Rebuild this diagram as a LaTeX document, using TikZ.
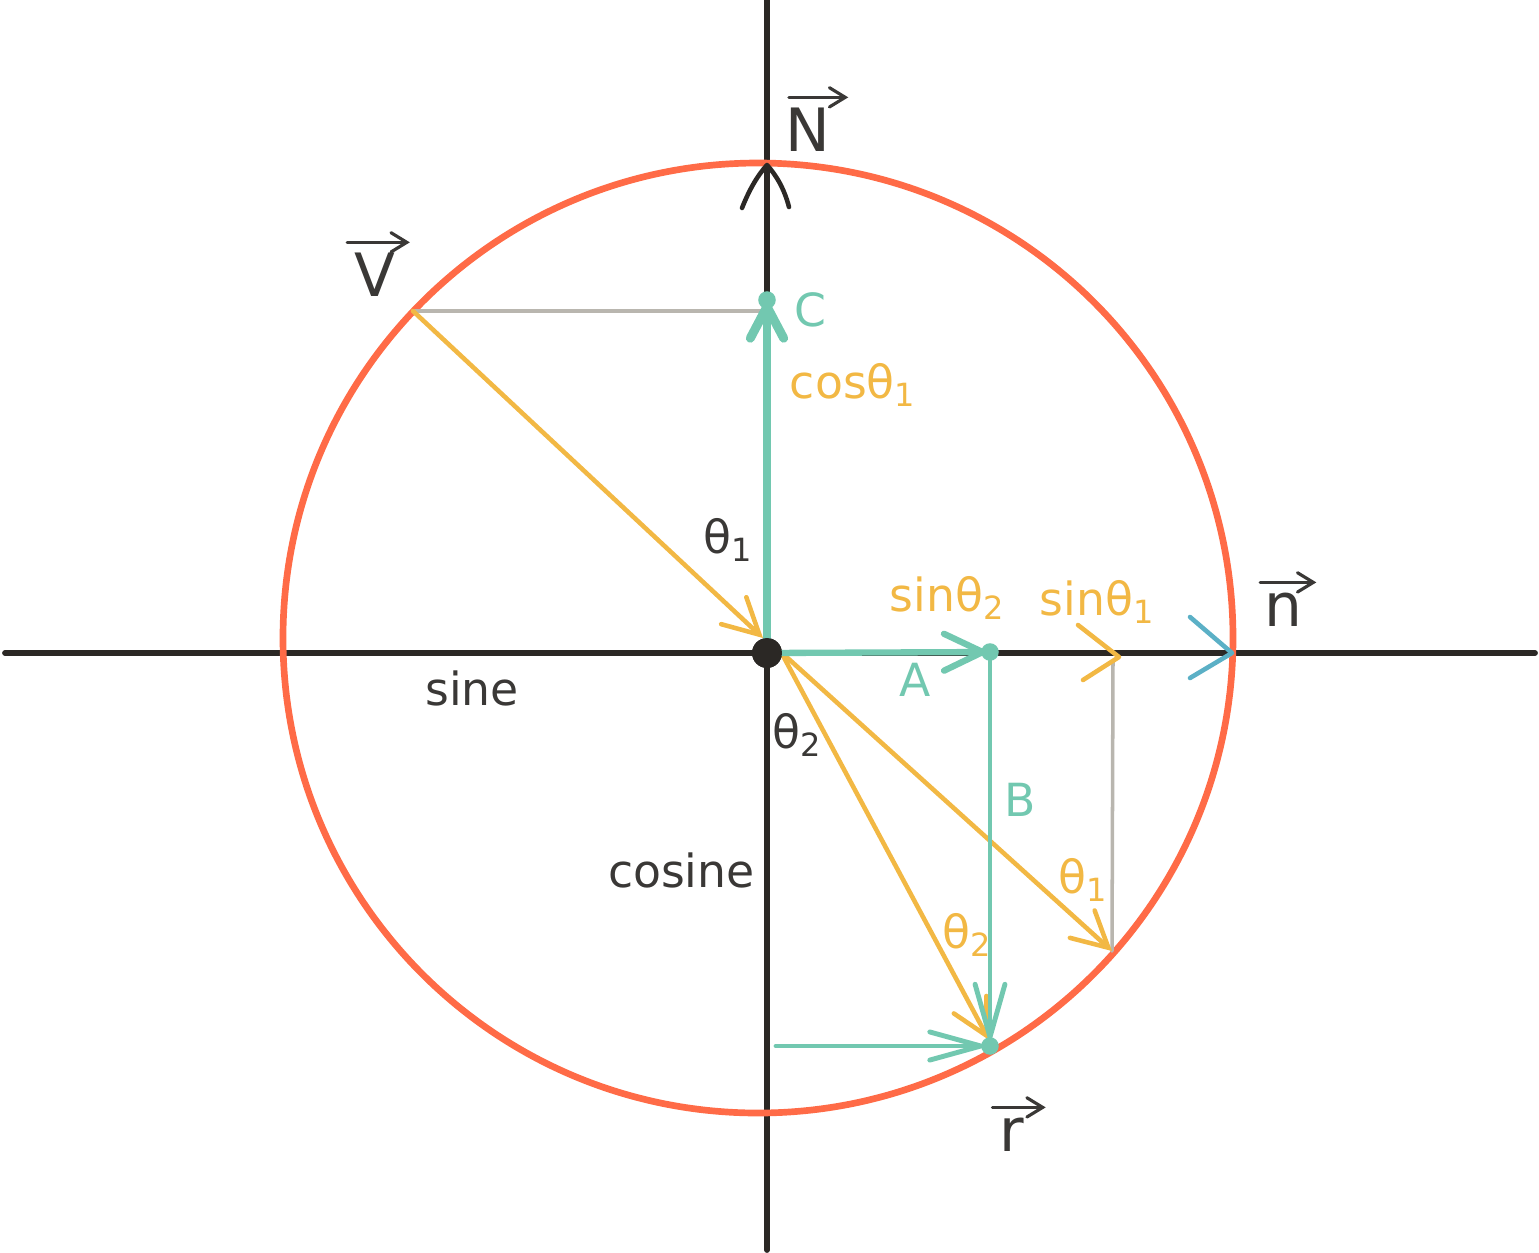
\documentclass[tikz,border=0pt]{standalone}
\usepackage{fontspec}
\setmainfont{DejaVu Sans}
\usetikzlibrary{arrows.meta}
\definecolor{cred}{HTML}{FF6B47}
\definecolor{cgreen}{HTML}{72C8B0}
\definecolor{cyel}{HTML}{F2B844}
\definecolor{cgray}{HTML}{B9B6AF}
\definecolor{cblue}{HTML}{5BB0C6}
\definecolor{cblack}{HTML}{2B2825}
\definecolor{ctext}{HTML}{3A3836}
\newcommand{\thsub}[1]{θ\textsubscript{#1}}
\begin{document}
\begin{tikzpicture}[x=0.02cm,y=-0.02cm, line cap=round, line join=round,
  lbl/.style={font=\fontsize{26}{30}\selectfont, inner sep=0pt, text=ctext},
  ylbl/.style={lbl, text=cyel},
  glbl/.style={lbl, text=cgreen},
  vlbl/.style={font=\fontsize{34}{36}\selectfont, inner sep=0pt, text=ctext},
  vecarrow/.style={draw=ctext, line width=1.8pt, -{Straight Barb[length=9pt,width=11pt,line cap=round]}},
  axis/.style={draw=cblack, line width=3.3pt},
  ring/.style={draw=cred, line width=3.8pt},
  yarrow/.style={draw=cyel, line width=2.6pt, -{Straight Barb[length=20pt,width=21pt,line cap=round]}},
  garrow/.style={draw=cgreen},
  grayline/.style={draw=cgray, line width=2pt},
  gdot/.style={circle, fill=cgreen, minimum size=10pt, inner sep=0pt},
  bdot/.style={circle, fill=cblack, minimum size=17pt, inner sep=0pt},
  barb/.style={line width=2.6pt}]
\useasboundingbox (0,0) rectangle (1539,1252);
% coordinates
\coordinate (xl) at (5,653);
\coordinate (xr) at (1535,653);
\coordinate (yt) at (767,0);
\coordinate (yb) at (767,1250);
\coordinate (cen) at (758,638);
\coordinate (vpt) at (413,311);
\coordinate (vproj) at (767,311);
\coordinate (ytip) at (763,638);
\coordinate (ostart) at (781,652);
\coordinate (t1tip) at (1112,951);
\coordinate (t1top) at (1113,661);
\coordinate (t2tip) at (989,1040);
\coordinate (blstart) at (776,1046);
\coordinate (ctip) at (767,297);
% axes
\draw[axis] (xl) -- (xr);
\draw[axis] (yt) -- (yb);
% circle
\draw[ring] (cen) circle[radius=475];
% N arrowhead on vertical axis
\draw[draw=cblack, barb] (742,208) .. controls (750,188) and (758,175) .. (767,165) .. controls (776,175) and (784,188) .. (789,207);
% gray helper lines
\draw[grayline] (vpt) -- (vproj);
\draw[grayline] (t1top) -- (t1tip);
% yellow arrows
\draw[yarrow] (vpt) -- (ytip);
\draw[yarrow] (ostart) -- (t1tip);
\draw[yarrow] (ostart) -- (t2tip);
% green C
\node[gdot] (C) at (767,300) {};
\node[bdot] (O) at (767,653) {};
\draw[garrow, line width=5.1pt, -{Straight Barb[length=18pt,width=19pt,line cap=round]}] (767,645) -- (ctip);
% green A
\node[gdot] (Apt) at (990,652) {};
\node[gdot] (R) at (990,1046) {};
\draw[garrow, line width=3.6pt, -{Straight Barb[length=22pt,width=21pt,line cap=round]}] (O.center) -- (Apt.center);
\draw[garrow, line width=2.8pt, -{Straight Barb[length=30pt,width=17pt,line cap=round]}] (Apt.center) -- (R.center);
\draw[garrow, line width=2.8pt, -{Straight Barb[length=29pt,width=16pt,line cap=round]}] (blstart) -- (R.center);
\node[bdot] at (O) {};
% arrowheads on horizontal axis
\draw[draw=cyel, barb] (1078,625) -- (1119,657) -- (1083,680);
\draw[draw=cblue, barb] (1190,617) -- (1232,653) -- (1190,678);
% vector labels
\node[vlbl] (lN) at (808,130) {N};
\node[vlbl] (lV) at (375,275) {V};
\node[vlbl] (ln) at (1283,610) {n};
\node[vlbl] (lr) at (1012,1135) {r};
\draw[vecarrow] ([xshift=2pt,yshift=6pt]lN.north west) -- ([xshift=10pt,yshift=6pt]lN.north east);
\draw[vecarrow] ([xshift=-4pt,yshift=6pt]lV.north west) -- ([xshift=8pt,yshift=6pt]lV.north east);
\draw[vecarrow] ([xshift=-2pt,yshift=6pt]ln.north west) -- ([xshift=8pt,yshift=6pt]ln.north east);
\draw[vecarrow] ([xshift=-4pt,yshift=6pt]lr.north west) -- ([xshift=12pt,yshift=6pt]lr.north east);
% labels
\node[glbl] (lC) at (810,310) {C};
\node[ylbl] (lcos) at (853,385) {cos\thsub{1}};
\node[lbl] (lt1) at (728,540) {\thsub{1}};
\node[ylbl] (ls2) at (947,598) {sin\thsub{2}};
\node[ylbl] (ls1) at (1097,602) {sin\thsub{1}};
\node[lbl] (lsine) at (472,688) {sine};
\node[glbl] (lA) at (915,680) {A};
\node[lbl] (lt2) at (797,735) {\thsub{2}};
\node[glbl] (lB) at (1020,800) {B};
\node[lbl, anchor=east] (lcosine) at (755,870) {cosine};
\node[ylbl] (lt1b) at (1083,880) {\thsub{1}};
\node[ylbl] (lt2b) at (967,935) {\thsub{2}};
\end{tikzpicture}
\end{document}
